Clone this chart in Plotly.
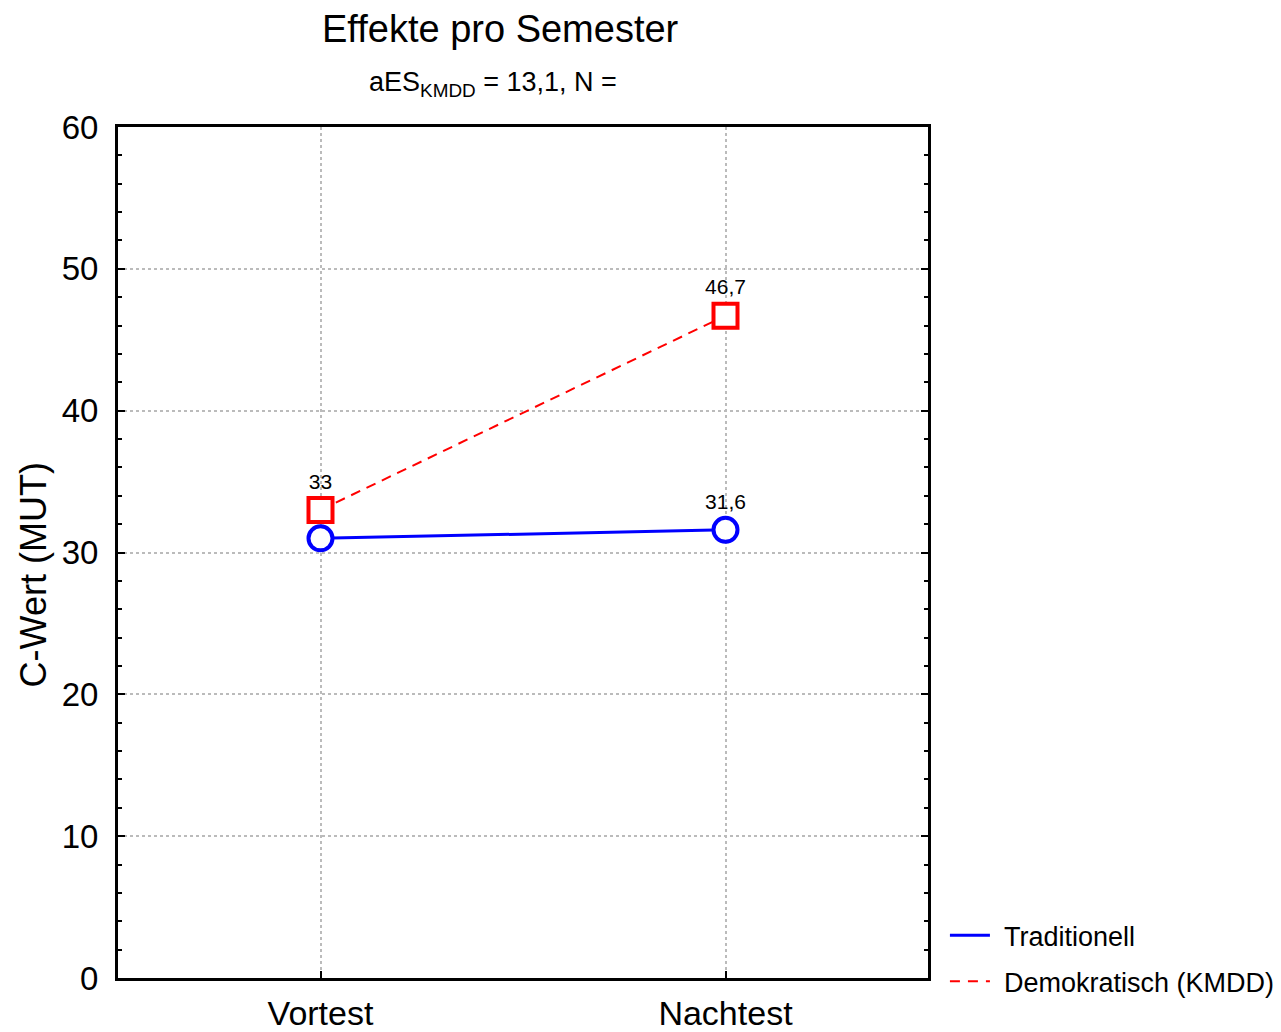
import plotly.graph_objects as go

categories = ["Vortest", "Nachtest"]
traditionell = [31.0, 31.6]
demokratisch = [33.0, 46.7]
label_trad = ["", "31,6"]
label_demo = ["33", "46,7"]
series_names = ["Traditionell", "Demokratisch (KMDD)"]
title_text = "Effekte pro Semester"
subtitle_text = "aES<sub>KMDD</sub> = 13,1, N ="
y_title = "C-Wert (MUT)"

FONT = "Liberation Sans, Arial, sans-serif"

fig = go.Figure()

fig.add_trace(go.Scatter(
    x=categories, y=traditionell, mode="lines+markers+text",
    text=label_trad, textposition="top center",
    textfont=dict(size=21, color="black", family=FONT),
    line=dict(color="#0000ff", width=3),
    marker=dict(symbol="circle", size=24, color="white",
                line=dict(color="#0000ff", width=4)),
    showlegend=False, cliponaxis=False,
))
fig.add_trace(go.Scatter(
    x=categories, y=demokratisch, mode="lines+markers+text",
    text=label_demo, textposition="top center",
    textfont=dict(size=21, color="black", family=FONT),
    line=dict(color="#ff0000", width=2, dash="10px,7px"),
    marker=dict(symbol="square", size=24, color="white",
                line=dict(color="#ff0000", width=4)),
    showlegend=False, cliponaxis=False,
))
# legend entries (line samples only)
fig.add_trace(go.Scatter(x=[None], y=[None], mode="lines", name="\u2004" + series_names[0],
                         legendgroup="a",
                         line=dict(color="#0000ff", width=3)))
fig.add_trace(go.Scatter(x=[None], y=[None], mode="lines", name="\u2004" + series_names[1],
                         legendgroup="b",
                         line=dict(color="#ff0000", width=2, dash="10px,8px")))

fig.update_layout(
    width=1273, height=1024,
    paper_bgcolor="white", plot_bgcolor="white",
    margin=dict(l=110, r=353, t=119, b=54),
    font=dict(family=FONT, color="black"),
    legend=dict(xref="container", yref="container", x=0.736, y=0.118,
                xanchor="left", yanchor="top",
                font=dict(size=27, family=FONT), itemwidth=40,
                bgcolor="rgba(0,0,0,0)", traceorder="grouped", tracegroupgap=8),
    annotations=[
        dict(text=title_text, xref="paper", yref="paper", x=0.472, y=1.115,
             showarrow=False, font=dict(size=38, family=FONT), xanchor="center", yanchor="middle"),
        dict(text=subtitle_text, xref="paper", yref="paper", x=0.463, y=1.05,
             showarrow=False, font=dict(size=27, family=FONT), xanchor="center", yanchor="middle"),
        dict(text=y_title, xref="paper", yref="paper", x=-0.104, y=0.474, textangle=-90,
             showarrow=False, font=dict(size=36, family=FONT), xanchor="center", yanchor="middle"),
    ],
)

fig.update_xaxes(
    type="category", range=[-0.5, 1.5], automargin=False,
    showline=True, linecolor="black", linewidth=3, mirror=True,
    ticks="inside", ticklen=7, tickwidth=2, tickcolor="black",
    showgrid=True, gridcolor="#bbbbbb", griddash="dot", gridwidth=1.5,
    tickfont=dict(size=34, family=FONT), zeroline=False, ticklabelstandoff=3,
)
fig.update_yaxes(
    range=[0, 60], dtick=10, tick0=0, automargin=False,
    showline=True, linecolor="black", linewidth=3, mirror="ticks",
    ticks="inside", ticklen=7, tickwidth=2, tickcolor="black",
    showgrid=True, gridcolor="#bbbbbb", griddash="dot", gridwidth=1.5,
    tickfont=dict(size=33, family=FONT), zeroline=False, ticklabelstandoff=10,
    minor=dict(dtick=2, ticks="inside", ticklen=4, tickwidth=2, tickcolor="black", showgrid=False),
)

fig.write_html("out.html")
